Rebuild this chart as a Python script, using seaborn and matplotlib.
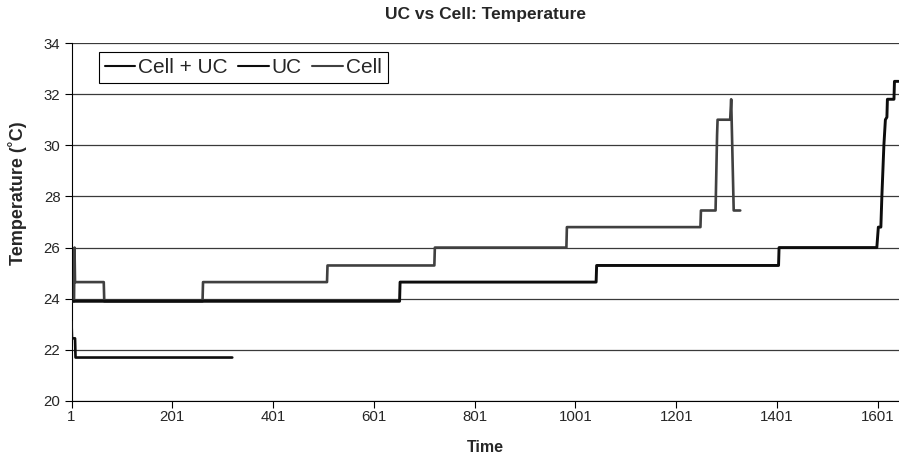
import matplotlib
matplotlib.use("Agg")
import matplotlib.pyplot as plt
import seaborn as sns
import pandas as pd
from matplotlib.lines import Line2D

# ---- data ----
cell_uc_t = [1, 652, 653, 1042, 1043, 1404, 1405, 1599, 1602, 1607, 1609, 1611, 1613, 1616, 1619, 1620, 1633, 1634, 1642]
cell_uc_v = [23.9, 23.9, 24.65, 24.65, 25.3, 25.3, 26.0, 26.0, 26.8, 26.8, 28.0, 29.0, 30.0, 31.0, 31.1, 31.8, 31.8, 32.5, 32.5]

uc_t = [1, 2, 8, 9, 320]
uc_v = [23.1, 22.45, 22.45, 21.7, 21.7]

cell_t = [1, 6, 7, 8, 65, 66, 261, 262, 508, 509, 721, 722, 983, 984, 1249, 1250, 1279, 1282, 1283, 1308, 1310, 1315, 1328]
cell_v = [23.9, 23.9, 26.0, 24.65, 24.65, 23.9, 23.9, 24.65, 24.65, 25.3, 25.3, 26.0, 26.0, 26.8, 26.8, 27.45, 27.45, 30.4, 31.0, 31.0, 31.8, 27.45, 27.45]

series_names = ["Cell + UC", "UC", "Cell"]
y_ticks = [20, 22, 24, 26, 28, 30, 32, 34]
x_ticks = [1, 201, 401, 601, 801, 1001, 1201, 1401, 1601]

title = "UC vs Cell: Temperature"
x_label = "Time"
y_label = "Temperature (\u02daC)"

sns.set_theme(style="white")
plt.rcParams["font.family"] = ["Liberation Sans", "DejaVu Sans"]

fig = plt.figure(figsize=(8.99, 4.66), dpi=100)
ax = fig.add_axes([71.5 / 899, 1 - 401 / 466, 1 - 71.5 / 899, (401 - 43) / 466])

colors = {"Cell + UC": "#0d0d0d", "UC": "#0d0d0d", "Cell": "#404040"}
widths = {"Cell + UC": 2.1, "UC": 1.9, "Cell": 1.9}

# gridlines
for yv in y_ticks:
    ax.axhline(yv, color="#3a3a3a", lw=0.9, zorder=0.5)

data = {"Cell + UC": (cell_uc_t, cell_uc_v), "UC": (uc_t, uc_v), "Cell": (cell_t, cell_v)}
for name in ["Cell", "UC", "Cell + UC"]:
    t, v = data[name]
    df = pd.DataFrame({"t": t, "v": v})
    sns.lineplot(data=df, x="t", y="v", ax=ax, sort=False, estimator=None,
                 color=colors[name], lw=widths[name], zorder=3)

ax.set_xlim(1, 1643)
ax.set_ylim(20, 34)
ax.set_xticks(x_ticks)
ax.set_xticklabels([str(x) for x in x_ticks])
ax.set_yticks(y_ticks)
ax.set_yticklabels([str(y) for y in y_ticks])
ax.tick_params(axis="both", which="major", direction="out", length=5, width=0.8,
               color="black", labelsize=10.8, bottom=True, left=True)
ax.tick_params(axis="x", pad=1.5)
ax.tick_params(axis="y", pad=3)

for side in ["left", "bottom"]:
    ax.spines[side].set_visible(True)
    ax.spines[side].set_color("black")
    ax.spines[side].set_linewidth(0.8)
for side in ["top", "right"]:
    ax.spines[side].set_visible(False)

ax.set_xlabel(x_label, fontsize=11.5, fontweight="bold")
ax.xaxis.set_label_coords(0.5, -0.108)
ax.set_ylabel(y_label, fontsize=13, fontweight="bold")
ax.yaxis.set_label_coords(-0.054, 0.58)
fig.text((71.5 + 899) / 2 / 899, 1 - 15 / 466, title, ha="center", va="center",
         fontsize=12.5, fontweight="bold")

handles = [Line2D([], [], color=colors[n], lw=1.5) for n in series_names]
leg = ax.legend(handles, series_names, loc="upper left", bbox_to_anchor=(0.033, 0.975),
                borderaxespad=0, ncol=3, fontsize=15, frameon=True, fancybox=False,
                handlelength=1.45, handletextpad=0.15, columnspacing=0.5,
                borderpad=0.3, edgecolor="black")
leg.get_frame().set_linewidth(0.8)
leg.get_frame().set_facecolor("white")
leg.get_frame().set_alpha(1)

fig.savefig("out.png", dpi=100)
